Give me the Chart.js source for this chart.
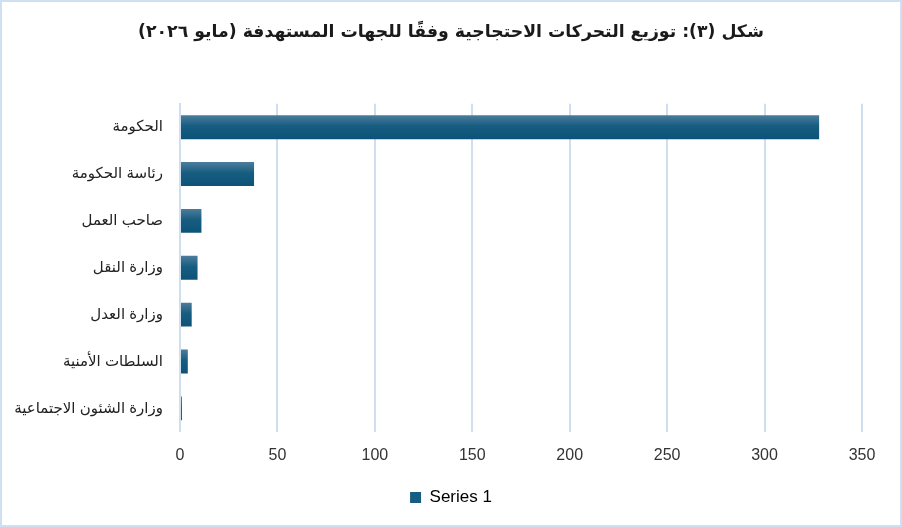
<!DOCTYPE html>
<html>
<head>
<meta charset="utf-8">
<script src="https://cdn.jsdelivr.net/npm/chart.js@4"></script>
<style>
  html, body { margin: 0; padding: 0; background: #fff; }
  #wrap {
    width: 902px; height: 527px; box-sizing: border-box;
    border: 2px solid #cfe0f2; background: #fff;
  }
  #chart { display: block; }
</style>
</head>
<body>
<div id="wrap"><canvas id="chart" dir="rtl" width="898" height="523"></canvas></div>
<script>
// chart data
const categories = [
  'الحكومة',
  'رئاسة الحكومة',
  'صاحب العمل',
  'وزارة النقل',
  'وزارة العدل',
  'السلطات الأمنية',
  'وزارة الشئون الاجتماعية'
];
const seriesValues = [328, 38, 11, 9, 6, 4, 1];
const xTicks = [0, 50, 100, 150, 200, 250, 300, 350];
const seriesName = 'Series 1';
const titleText = 'شكل (٣): توزيع التحركات الاحتجاجية وفقًا للجهات المستهدفة (مايو ٢٠٢٦)';

const barPct = 0.51;

// gradient for each bar, top lighter -> bottom darker
function barFill(context) {
  const chart = context.chart;
  const y = chart.scales && chart.scales.y;
  if (!y || !chart.chartArea || context.index === undefined) return '#135a7e';
  const band = (y.bottom - y.top) / categories.length;
  const mid = y.getPixelForValue(context.index);
  const half = band * barPct / 2;
  const g = chart.ctx.createLinearGradient(0, mid - half, 0, mid + half);
  g.addColorStop(0, '#4d7c9b');
  g.addColorStop(0.45, '#175d81');
  g.addColorStop(1, '#0d5377');
  return g;
}

const ctx = document.getElementById('chart').getContext('2d');
new Chart(ctx, {
  type: 'bar',
  data: {
    labels: categories,
    datasets: [{
      label: seriesName,
      data: seriesValues,
      backgroundColor: barFill,
      borderWidth: 0,
      barPercentage: barPct,
      categoryPercentage: 1
    }]
  },
  options: {
    indexAxis: 'y',
    responsive: false,
    animation: false,
    layout: { padding: { left: 0, right: 0, top: 0, bottom: 9 } },
    plugins: {
      title: {
        display: true,
        text: titleText,
        color: '#1a1a1a',
        font: { family: "'DejaVu Sans'", size: 17.3, weight: 'bold' },
        padding: { top: 20, bottom: 61 }
      },
      legend: {
        position: 'bottom',
        labels: {
          color: '#333',
          font: { family: "'Liberation Sans', 'DejaVu Sans'", size: 17 },
          boxWidth: 11,
          boxHeight: 11,
          padding: 10,
          generateLabels: function (chart) {
            return [{
              text: seriesName,
              fillStyle: '#175d81',
              strokeStyle: '#175d81',
              lineWidth: 0,
              datasetIndex: 0
            }];
          }
        }
      },
      tooltip: { enabled: false }
    },
    scales: {
      x: {
        min: 0,
        max: 350,
        afterBuildTicks: function (axis) {
          axis.ticks = xTicks.map(function (v) { return { value: v }; });
        },
        afterFit: function (axis) { axis.paddingRight = 38; },
        grid: { color: '#cfdff0', lineWidth: 2, drawTicks: false },
        border: { display: false },
        ticks: {
          color: '#333',
          padding: 14,
          font: { family: "'Liberation Sans', 'DejaVu Sans'", size: 16 }
        }
      },
      y: {
        grid: { display: false, drawTicks: false },
        border: { display: true, color: '#cfdff0', width: 2 },
        afterFit: function (axis) { axis.width = 178; },
        ticks: {
          color: '#222',
          padding: 17,
          font: { family: "'Liberation Sans', 'DejaVu Sans'", size: 15 }
        }
      }
    }
  }
});
</script>
</body>
</html>
